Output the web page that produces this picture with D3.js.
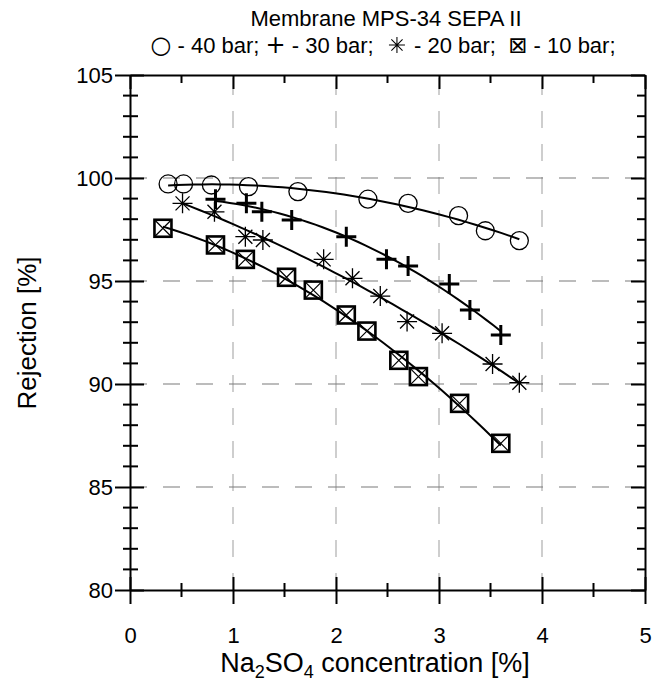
<!DOCTYPE html>
<html>
<head>
<meta charset="utf-8">
<script src="https://cdn.jsdelivr.net/npm/d3@7"></script>
<style>
  body { margin: 0; background: #fff; }
  text { font-family: "Liberation Sans", Arial, sans-serif; fill: #000; }
</style>
</head>
<body>
<div id="chart"></div>
<script>
// concentration [%] and rejection [%]
let bar40x = [0.37, 0.52, 0.79, 1.15, 1.63, 2.31, 2.70, 3.19, 3.45, 3.78];
let bar40y = [99.71, 99.71, 99.66, 99.58, 99.34, 98.97, 98.77, 98.17, 97.44, 96.96];

let bar30x = [0.83, 1.13, 1.28, 1.57, 2.10, 2.49, 2.70, 3.10, 3.30, 3.60];
let bar30y = [98.97, 98.77, 98.36, 97.96, 97.15, 96.05, 95.73, 94.85, 93.59, 92.38];

let bar20x = [0.51, 0.82, 1.12, 1.29, 1.88, 2.16, 2.43, 2.69, 3.03, 3.52, 3.78];
let bar20y = [98.77, 98.36, 97.15, 96.99, 96.05, 95.13, 94.27, 93.03, 92.46, 90.97, 90.06];

let bar10x = [0.32, 0.83, 1.12, 1.52, 1.78, 2.10, 2.30, 2.61, 2.80, 3.20, 3.60];
let bar10y = [97.56, 96.75, 96.05, 95.18, 94.56, 93.35, 92.57, 91.15, 90.36, 89.06, 87.12];

let xTicks = [0, 1, 2, 3, 4, 5];
let yTicks = [80, 85, 90, 95, 100, 105];

let dim = {
    "width": 658,
    "height": 683
};
let plot = { left: 130, right: 645, top: 75, bottom: 590 };

let svg = d3.select("#chart")
            .append("svg")
            .attr("width", dim.width)
            .attr("height", dim.height);

let scaleX = d3.scaleLinear().domain([0, 5]).range([plot.left, plot.right]);
let scaleY = d3.scaleLinear().domain([80, 105]).range([plot.bottom, plot.top]);

// dashed grid
let grid = svg.append("g")
              .attr("stroke-width", 1.1)
              .attr("stroke-dasharray", "17,16");
grid.selectAll("line.gx")
    .data(xTicks.slice(1, -1))
    .join("line")
    .attr("class", "gx")
    .attr("stroke", "#a6a6a6")
    .attr("x1", d => scaleX(d)).attr("x2", d => scaleX(d))
    .attr("y1", plot.bottom).attr("y2", plot.top);
grid.selectAll("line.gy")
    .data(yTicks.slice(1, -1))
    .join("line")
    .attr("class", "gy")
    .attr("stroke", "#7a7a7a")
    .attr("x1", plot.left).attr("x2", plot.right)
    .attr("y1", d => scaleY(d)).attr("y2", d => scaleY(d));

// axes: left/bottom ticks cross the line, top/right ticks point inward
function frame(axisFn, scale, transform, ticks, major, labels) {
    let g = svg.append("g").attr("transform", transform);
    g.call(axisFn(scale).tickValues(ticks).tickSize(-major[0]).tickSizeOuter(0).tickFormat(""));
    g.call(a => a.selectAll(".tick line").attr("stroke-width", 2));
    g.select(".domain").attr("stroke-width", 2);
    if (major[1]) {
        let o = svg.append("g").attr("transform", transform);
        o.call(axisFn(scale).tickValues(ticks).tickSize(major[1]).tickSizeOuter(0).tickFormat(labels ? d3.format("d") : ""));
        o.select(".domain").remove();
        o.selectAll(".tick line").attr("stroke-width", 2);
        o.selectAll(".tick text").attr("font-size", 22).attr("font-family", "Liberation Sans, Arial, sans-serif");
        return o;
    }
    return g;
}

let minorX = d3.range(0.5, 5, 1);
let minorY = d3.range(80, 105, 1).filter(d => d % 5 !== 0);

let bottomAxis = frame(d3.axisBottom, scaleX, `translate(0,${plot.bottom})`, xTicks, [13, 14], true);
bottomAxis.selectAll(".tick text").attr("y", 37);
let leftAxis = frame(d3.axisLeft, scaleY, `translate(${plot.left},0)`, yTicks, [14, 15], true);
leftAxis.selectAll(".tick text").attr("x", -17);
frame(d3.axisTop, scaleX, `translate(0,${plot.top})`, xTicks, [14, 0]);
frame(d3.axisRight, scaleY, `translate(${plot.right},0)`, yTicks, [14, 0]);

// minor ticks
let minorG = svg.append("g").attr("stroke", "#000").attr("stroke-width", 2);
minorG.selectAll("line.mb").data(minorX).join("line").attr("class", "mb")
      .attr("x1", d => scaleX(d)).attr("x2", d => scaleX(d))
      .attr("y1", plot.bottom - 7).attr("y2", plot.bottom + 7);
minorG.selectAll("line.mt").data(minorX).join("line").attr("class", "mt")
      .attr("x1", d => scaleX(d)).attr("x2", d => scaleX(d))
      .attr("y1", plot.top).attr("y2", plot.top + 8);
minorG.selectAll("line.ml").data(minorY).join("line").attr("class", "ml")
      .attr("x1", plot.left - 7).attr("x2", plot.left + 8)
      .attr("y1", d => scaleY(d)).attr("y2", d => scaleY(d));
minorG.selectAll("line.mr").data(minorY).join("line").attr("class", "mr")
      .attr("x1", plot.right - 8).attr("x2", plot.right)
      .attr("y1", d => scaleY(d)).attr("y2", d => scaleY(d));

// least squares quadratic trend for each series
function quadFit(xs, ys) {
    let s = [0, 0, 0, 0, 0], t = [0, 0, 0];
    xs.forEach((x, i) => {
        for (let k = 0; k < 5; k++) s[k] += Math.pow(x, k);
        for (let k = 0; k < 3; k++) t[k] += ys[i] * Math.pow(x, k);
    });
    let m = [[s[0], s[1], s[2], t[0]], [s[1], s[2], s[3], t[1]], [s[2], s[3], s[4], t[2]]];
    for (let i = 0; i < 3; i++) {
        for (let j = i + 1; j < 3; j++) {
            let f = m[j][i] / m[i][i];
            for (let k = i; k < 4; k++) m[j][k] -= f * m[i][k];
        }
    }
    let c = [0, 0, 0];
    for (let i = 2; i >= 0; i--) {
        let v = m[i][3];
        for (let k = i + 1; k < 3; k++) v -= m[i][k] * c[k];
        c[i] = v / m[i][i];
    }
    return x => c[0] + c[1] * x + c[2] * x * x;
}

let line = d3.line()
             .x(d => scaleX(d[0]))
             .y(d => scaleY(d[1]));

let series = [
    { xs: bar40x, ys: bar40y, mark: "circle" },
    { xs: bar30x, ys: bar30y, mark: "plus" },
    { xs: bar20x, ys: bar20y, mark: "star" },
    { xs: bar10x, ys: bar10y, mark: "square" }
];

let marks = {
    circle: "M-9,0A9,9 0 1,0 9,0A9,9 0 1,0 -9,0Z",
    plus: "M-10,0H10M0,-10V10",
    star: "M-10,0H10M0,-10V10M-7,-7L7,7M-7,7L7,-7",
    square: "M-8.5,-8.5L8.5,8.5M-8.5,8.5L8.5,-8.5"
};
let markWidth = { circle: 1.3, plus: 3, star: 1.3, square: 1.2 };

series.forEach(s => {
    let f = quadFit(s.xs, s.ys);
    let x0 = d3.min(s.xs), x1 = d3.max(s.xs);
    let pts = d3.range(0, 41).map(i => {
        let x = x0 + (x1 - x0) * i / 40;
        return [x, f(x)];
    });
    svg.append("path")
       .attr("d", line(pts))
       .attr("fill", "none")
       .attr("stroke", "#000")
       .attr("stroke-width", 2);

    let pg = svg.append("g");
    let pairs = s.xs.map((x, i) => [x, s.ys[i]]);
    pg.selectAll("path")
      .data(pairs)
      .join("path")
      .attr("transform", d => `translate(${scaleX(d[0])},${scaleY(d[1])})`)
      .attr("d", marks[s.mark])
      .attr("fill", "none")
      .attr("stroke", "#000")
      .attr("stroke-width", markWidth[s.mark]);
    if (s.mark === "square") {
        pg.selectAll("rect")
          .data(pairs)
          .join("rect")
          .attr("x", d => scaleX(d[0]) - 8.5)
          .attr("y", d => scaleY(d[1]) - 8.5)
          .attr("width", 17).attr("height", 17)
          .attr("fill", "none")
          .attr("stroke", "#000")
          .attr("stroke-width", 2.6);
    }
});

// titles
svg.append("text")
   .attr("x", 386).attr("y", 26)
   .attr("text-anchor", "middle")
   .attr("font-size", 22)
   .text("Membrane MPS-34 SEPA II");

let legend = svg.append("text")
   .attr("x", 383).attr("y", 53)
   .attr("text-anchor", "middle")
   .attr("font-size", 22)
   .attr("xml:space", "preserve");
legend.append("tspan").attr("font-size", 24).attr("font-family", "DejaVu Sans").text("\u25CB");
legend.append("tspan").text(" - 40 bar; ");
legend.append("tspan").attr("font-size", 24).attr("font-family", "DejaVu Sans").text("+");
legend.append("tspan").text(" - 30 bar;  ");
// star glyph falls back to a colour emoji font, so leave room and draw it
let starSlot = legend.append("tspan").attr("font-size", 22).text("\u2003");
legend.append("tspan").text(" - 20 bar;  ");
legend.append("tspan").attr("font-size", 23).attr("font-family", "DejaVu Sans").text("\u22A0");
legend.append("tspan").text(" - 10 bar;");

let slot = starSlot.node();
let sp = slot.getStartPositionOfChar(0);
let sw = slot.getComputedTextLength();
svg.append("path")
   .attr("transform", `translate(${sp.x + sw / 2},${53 - 8}) scale(0.8)`)
   .attr("d", marks.star)
   .attr("fill", "none")
   .attr("stroke", "#000")
   .attr("stroke-width", 1.3);

let xt = svg.append("text")
   .attr("x", 375).attr("y", 672)
   .attr("text-anchor", "middle")
   .attr("font-size", 27);
xt.append("tspan").text("Na");
xt.append("tspan").attr("font-size", 18).attr("dy", 6).text("2");
xt.append("tspan").attr("dy", -6).text("SO");
xt.append("tspan").attr("font-size", 18).attr("dy", 6).text("4");
xt.append("tspan").attr("dy", -6).text(" concentration [%]");

svg.append("text")
   .attr("transform", "translate(36,333) rotate(-90)")
   .attr("text-anchor", "middle")
   .attr("font-size", 26)
   .text("Rejection [%]");
</script>
</body>
</html>
